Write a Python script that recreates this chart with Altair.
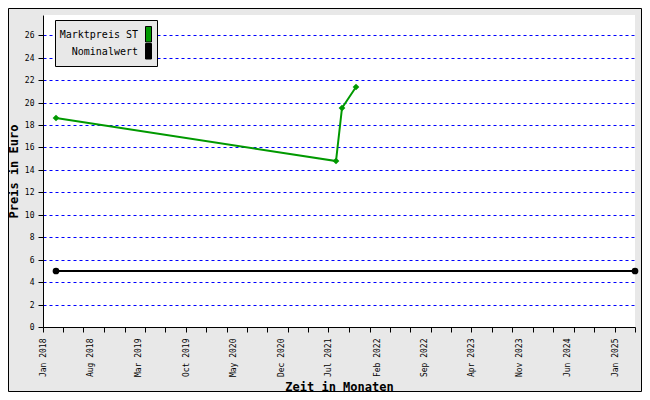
import altair as alt
import pandas as pd

# ---- data ----
series_names = ["Marktpreis ST", "Nominalwert"]
series_colors = ["#009900", "#000000"]
series_shapes = ["diamond", "circle"]

markt_dates = ["2018-02-26", "2021-08-04", "2021-08-30", "2021-10-31"]
markt_values = [18.6, 14.75, 19.55, 21.4]

nominal_dates = ["2018-02-26", "2025-03-31"]
nominal_values = [5.0, 5.0]

y_tick_values = [0, 2, 4, 6, 8, 10, 12, 14, 16, 18, 20, 22, 24, 26]
# labelled months (every 7 months) and quarter ticks
label_months = [(2018, 1), (2018, 8), (2019, 3), (2019, 10), (2020, 5), (2020, 12),
                (2021, 7), (2022, 2), (2022, 9), (2023, 4), (2023, 11), (2024, 6), (2025, 1)]
tick_months = [(y, m) for y in range(2018, 2026) for m in (1, 4, 7, 10) if (y, m) <= (2025, 4)]

df = pd.DataFrame({
    "date": markt_dates + nominal_dates,
    "value": markt_values + nominal_values,
    "series": [series_names[0]] * len(markt_dates) + [series_names[1]] * len(nominal_dates),
})

all_months = sorted(set(label_months) | set(tick_months))
axis_values = [alt.DateTime(year=y, month=m, date=1, utc=True) for (y, m) in all_months]

FONT = "DejaVu Sans Mono"
BG = "#e8e8e8"

x_enc = alt.X(
    "date:T",
    scale=alt.Scale(type="utc", domain=[alt.DateTime(year=2018, month=1, date=1, utc=True),
                                        alt.DateTime(year=2025, month=4, date=2, utc=True)],
                    nice=False, round=True),
    axis=alt.Axis(
        title="Zeit in Monaten",
        values=axis_values,
        labelExpr="((utcyear(datum.value)-2018)*12 + utcmonth(datum.value)) % 7 == 0 ? utcFormat(datum.value, '%b %Y') : ''",
        tickOpacity={"condition": {"test": "utcmonth(datum.value) % 3 == 0", "value": 1}, "value": 0},
        labelAngle=-90, labelAlign="right", labelBaseline="middle",
        labelPadding=6, tickSize=5, labelOverlap=False, labelFlush=False,
        labelFont=FONT, labelFontSize=8, labelColor="black",
        grid=False, domainColor="black", tickColor="black",
        titleFont=FONT, titleFontSize=12, titleFontWeight="bold", titleColor="black",
        titleY=59, titleBaseline="middle",
    ),
)

y_enc = alt.Y(
    "value:Q",
    scale=alt.Scale(domain=[0, 27.8], nice=False, zero=True, round=True),
    axis=alt.Axis(
        title="Preis in Euro",
        values=y_tick_values,
        labelFont=FONT, labelFontSize=8, labelColor="black", labelPadding=4,
        tickSize=5, tickColor="black", domainColor="black", labelOverlap=False,
        grid=True, gridColor="#0000ff", gridDash=[3, 3], gridWidth=1,
        gridOpacity={"condition": {"test": "datum.value == 0", "value": 0}, "value": 1},
        titleFont=FONT, titleFontSize=12, titleFontWeight="bold", titleColor="black",
        titleAngle=-90, titleX=-30, titleY=156, titleAlign="center", titleBaseline="middle",
    ),
)

color_enc = alt.Color(
    "series:N", scale=alt.Scale(domain=series_names, range=series_colors), legend=None
)

base = alt.Chart(df).encode(x=x_enc, y=y_enc, color=color_enc)

lines = base.mark_line(strokeWidth=2).encode(detail="series:N")

points = base.mark_point(filled=True, size=45, opacity=1).encode(
    shape=alt.Shape("series:N", scale=alt.Scale(domain=series_names, range=series_shapes), legend=None),
)

one = pd.DataFrame({"k": [0]})

# chart frame
frame = alt.Chart(one).mark_rect(fillOpacity=0, stroke="black", strokeWidth=1).encode(
    x=alt.value(-34.5), x2=alt.value(598.5), y=alt.value(-6.5), y2=alt.value(376.5)
)

# hand-drawn legend (text left of a colour swatch, as in the reference)
legend_layers = [
    alt.Chart(one).mark_rect(fill=BG, stroke="black", strokeWidth=1).encode(
        x=alt.value(12.5), x2=alt.value(114.5), y=alt.value(5.5), y2=alt.value(51.5)
    )
]
for i, (name, col) in enumerate(zip(series_names, series_colors)):
    yc = 19.5 + 17 * i
    legend_layers.append(
        alt.Chart(one).mark_text(
            text=name, align="right", baseline="middle", font=FONT, fontSize=10, color="black"
        ).encode(x=alt.value(95), y=alt.value(yc))
    )
    legend_layers.append(
        alt.Chart(one).mark_rect(fill=col, stroke="black", strokeWidth=1).encode(
            x=alt.value(102.5), x2=alt.value(108.5), y=alt.value(yc - 8), y2=alt.value(yc + 7.5)
        )
    )

chart = alt.layer(lines, points, frame, *legend_layers).properties(
    width=592, height=312,
    background=BG,
    padding={"left": 35, "top": 7, "right": 7, "bottom": 65},
    autosize=alt.AutoSizeParams(type="none"),
).configure_view(stroke=None, fill="white")

chart.save("out.html", embed_options={"renderer": "svg", "actions": False})
